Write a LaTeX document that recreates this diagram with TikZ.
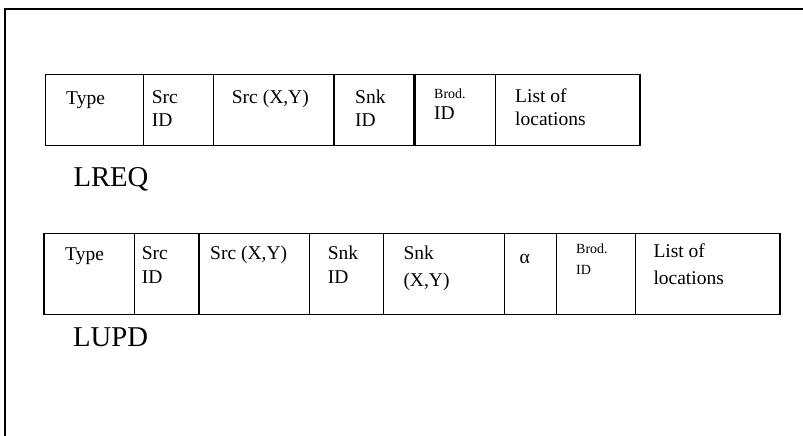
\documentclass[tikz,border=0pt]{standalone}
\usepackage{fontspec}
\setmainfont{Liberation Serif}
\begin{document}
\begin{tikzpicture}[x=1pt,y=-1pt,
  cell/.style={draw, line width=1.2pt, inner sep=0pt, outer sep=0pt},
  txt/.style={anchor=base west, inner sep=0pt, font=\fontsize{19.5}{23}\selectfont},
  smalltxt/.style={anchor=base west, inner sep=0pt, font=\fontsize{14}{16}\selectfont},
  bigtxt/.style={anchor=base west, inner sep=0pt, font=\fontsize{28.7}{32}\selectfont},
  frameline/.style={line width=1.6pt}]
\useasboundingbox (0,0) rectangle (803,436);
% frame
\coordinate (ftop) at (803,9);
\coordinate (fcorner) at (5,9);
\coordinate (fbot) at (5,436);
\draw[frameline] (ftop) -- (fcorner) -- (fbot);
% row 1 cells
\node[cell, minimum width=98pt,   minimum height=71.2pt] (a1) at (94.7,110.1) {};
\node[cell, minimum width=70pt,   minimum height=71.2pt] (a2) at (178.7,110.1) {};
\node[cell, minimum width=120.3pt,minimum height=71.2pt] (a3) at (273.85,110.1) {};
\node[cell, minimum width=80.5pt, minimum height=71.2pt] (a4) at (374.25,110.1) {};
\node[cell, minimum width=81.2pt, minimum height=71.2pt] (a5) at (455.1,110.1) {};
\node[cell, minimum width=144.3pt,minimum height=71.2pt] (a6) at (567.85,110.1) {};
\draw[line width=2.2pt] (a5.north west) -- (a5.south west);
% row 1 texts
\node[txt] (t1) at (66,104) {Type};
\node[txt] (t2a) at (151.7,103) {Src};
\node[txt] (t2b) at (151.7,126) {ID};
\node[txt] (t3) at (231.7,103) {Src (X,Y)};
\node[txt] (t4a) at (355,103) {Snk};
\node[txt] (t4b) at (355,126) {ID};
\node[smalltxt] (t5a) at (434,98.5) {Brod.};
\node[txt] (t5b) at (434,119) {ID};
\node[txt] (t6a) at (515,102.5) {List of};
\node[txt] (t6b) at (515,125.5) {locations};
\node[bigtxt] (lreq) at (73.3,186) {LREQ};
% row 2 cells
\node[cell, minimum width=90.3pt, minimum height=81pt] (b1) at (89.15,273.8) {};
\node[cell, minimum width=64.7pt, minimum height=81pt] (b2) at (166.65,273.8) {};
\node[cell, minimum width=110.3pt,minimum height=81pt] (b3) at (254.15,273.8) {};
\node[cell, minimum width=74pt,   minimum height=81pt] (b4) at (346.3,273.8) {};
\node[cell, minimum width=121pt,  minimum height=81pt] (b5) at (443.8,273.8) {};
\node[cell, minimum width=52.4pt, minimum height=81pt] (b6) at (530.5,273.8) {};
\node[cell, minimum width=78.6pt, minimum height=81pt] (b7) at (596,273.8) {};
\node[cell, minimum width=144.7pt,minimum height=81pt] (b8) at (707.65,273.8) {};
% row 2 texts
\node[txt] (u1) at (65,260.5) {Type};
\node[txt] (u2a) at (141.7,259.5) {Src};
\node[txt] (u2b) at (141.7,283.5) {ID};
\node[txt] (u3) at (210,259.5) {Src (X,Y)};
\node[txt] (u4a) at (327.7,259.5) {Snk};
\node[txt] (u4b) at (327.7,283.5) {ID};
\node[txt] (u5a) at (403.3,259) {Snk};
\node[txt] (u5b) at (403.3,286) {(X,Y)};
\node[txt] (u6) at (519.3,263) {α};
\node[smalltxt] (u7a) at (576,253.5) {Brod.};
\node[smalltxt] (u7b) at (576,274) {ID};
\node[txt] (u8a) at (653.3,257) {List of};
\node[txt] (u8b) at (653.3,284) {locations};
\node[bigtxt] (lupd) at (73,346) {LUPD};
\end{tikzpicture}
\end{document}
